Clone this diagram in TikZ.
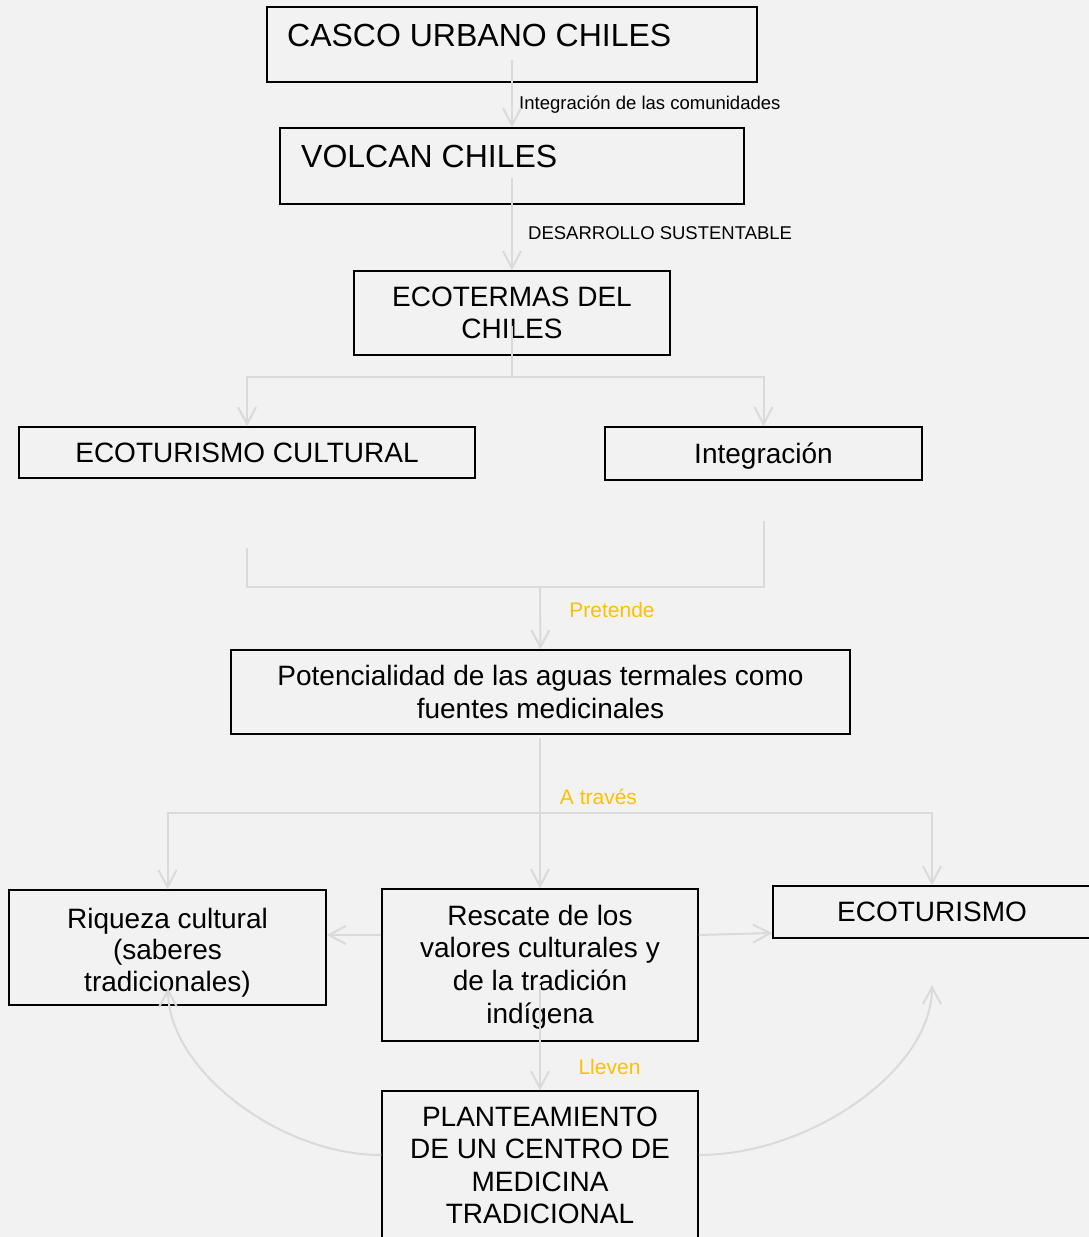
\documentclass[tikz,border=0pt]{standalone}
\usepackage{fontspec}
\setmainfont{Liberation Sans}
\usetikzlibrary{arrows.meta}
\definecolor{bg}{HTML}{F2F2F2}
\definecolor{lg}{HTML}{DADADA}
\definecolor{lab}{HTML}{FFC000}
\pgfdeclarelayer{background}
\pgfsetlayers{background,main}
\begin{document}
\begin{tikzpicture}[x=1pt,y=-1pt,
 box/.style={draw=black, line width=1.5pt, inner sep=0pt, align=center, font=\fontsize{28}{32.5}\selectfont},
 bigtext/.style={font=\fontsize{32}{36}\selectfont, anchor=base west, inner sep=0pt},
 conn/.style={draw=lg, line width=2pt},
 arr/.style={conn, -{Straight Barb[length=17pt,width=18pt]}},
 lbl/.style={font=\fontsize{21}{24}\selectfont, text=lab, inner sep=0pt, anchor=base},
 slbl/.style={font=\fontsize{18.5}{22}\selectfont, text=black, inner sep=0pt, anchor=base west}]
\useasboundingbox (0,0) rectangle (1089,1237);
\begin{pgfonlayer}{background}
\fill[bg] (0,0) rectangle (1089,1237);
\end{pgfonlayer}

% boxes
\node[box, minimum width=490pt, minimum height=75pt] (b1) at (512,44.5) {};
\node[bigtext] (t1) at (287,46) {CASCO URBANO CHILES};
\node[box, minimum width=464pt, minimum height=76pt] (b2) at (512,166) {};
\node[bigtext] (t2) at (301,167) {VOLCAN CHILES};
\node[box, minimum width=316pt, minimum height=84pt] (b3) at (512,313) {ECOTERMAS DEL\\CHILES};
\node[box, minimum width=456pt, minimum height=51pt] (b4) at (247,452.5) {ECOTURISMO CULTURAL};
\node[box, minimum width=317pt, minimum height=53pt, text depth=0pt] (b5) at (763.5,453.5) {Integración};
\node[box, minimum width=619pt, minimum height=84pt] (b6) at (540.5,692) {Potencialidad de las aguas termales como\\fuentes medicinales};
\node[box, minimum width=317pt, minimum height=115pt, font=\fontsize{28}{31.5}\selectfont] (b7) at (167.5,947.5) {\rule{0pt}{30pt}Riqueza cultural\\(saberes\\tradicionales)};
\node[box, minimum width=316pt, minimum height=152pt, font=\fontsize{28}{32.7}\selectfont] (b8) at (540,965) {\rule{0pt}{24pt}Rescate de los\\valores culturales y\\de la tradición\\indígena};
\node[box, minimum width=318pt, minimum height=52pt] (b9) at (932,912) {ECOTURISMO};
\node[box, minimum width=316pt, minimum height=149pt] (b10) at (540,1165.5) {PLANTEAMIENTO\\DE UN CENTRO DE\\MEDICINA\\TRADICIONAL};

% labels
\node[slbl] (l1) at (519,109) {Integración de las comunidades};
\node[slbl] (l2) at (528,239) {DESARROLLO SUSTENTABLE};
\node[lbl] (l3) at (612,617) {Pretende};
\node[lbl] (l4) at (598.5,804) {A través};
\node[lbl] (l5) at (609.5,1074) {Lleven};

% connectors
\coordinate (s1) at (512,60);
\coordinate (s2) at (512,178);
\coordinate (s3) at (512,326);
\coordinate (j3) at (512,377);
\coordinate (s4) at (247,548);
\coordinate (s5) at (764,521);
\coordinate (j4) at (540,587);
\coordinate (s6) at (540,738);
\coordinate (j6) at (540,812.5);
\coordinate (s8) at (540,985);
\coordinate (e7) at (168,988);
\coordinate (e9) at (932,985);
\draw[arr] (s1) -- (b2.north);
\draw[arr] (s2) -- (b3.north);
\draw[conn] (s3) -- (j3);
\draw[arr] (j3) -| (b4.north);
\draw[arr] (j3) -| (b5.north);
\draw[conn] (s4) |- (j4);
\draw[conn] (s5) |- (j4);
\draw[arr] (j4) -- (b6.north);
\draw[arr] (s6) -- (b8.north);
\draw[arr] (j6) -| (b7.north);
\draw[arr] (j6) -| (b9.north);
\draw[arr] ([yshift=30pt]b8.west) -- ([yshift=12.5pt]b7.east);
\draw[arr] ([yshift=30pt]b8.east) -- ([yshift=-21pt]b9.west);
\draw[arr] (s8) -- (b10.north);
\draw[arr] ([yshift=10.5pt]b10.west) .. controls (280,1155) and (168,1070) .. (e7);
\draw[arr] ([yshift=10.5pt]b10.east) .. controls (810,1155) and (932,1070) .. (e9);
\end{tikzpicture}
\end{document}
